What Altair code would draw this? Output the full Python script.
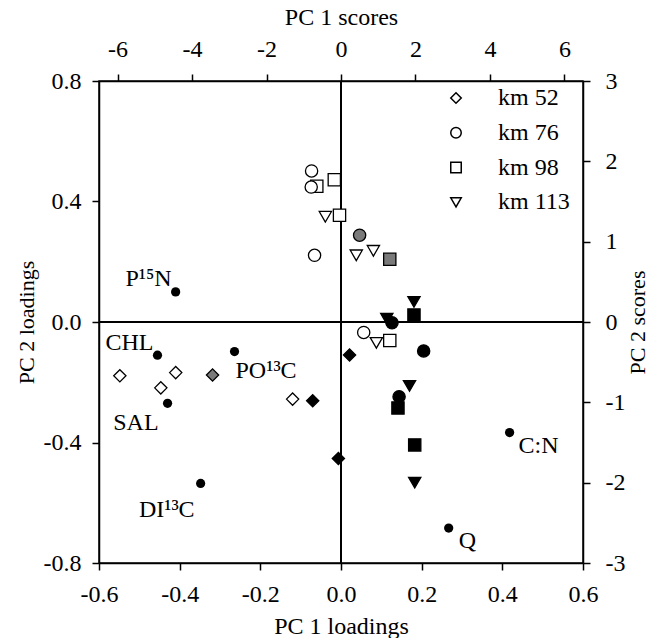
import altair as alt
import pandas as pd

# ---------------- data ----------------
load_names = ["P¹⁵N", "CHL", "SAL", "PO¹³C", "DI¹³C", "C:N", "Q"]
load_x = [-0.41, -0.455, -0.43, -0.264, -0.348, 0.418, 0.267]
load_y = [0.10, -0.11, -0.27, -0.098, -0.536, -0.367, -0.684]

score_site = (["km 113"] * 8 + ["km 98"] * 8 + ["km 76"] * 8 + ["km 52"] * 8)
score_group = (
    ["open", "open", "open", "open", "black", "black", "black", "black"]
    + ["open", "open", "open", "open", "grey", "black", "black", "black"]
    + ["open", "open", "open", "open", "grey", "black", "black", "black"]
    + ["open", "open", "open", "open", "grey", "black", "black", "black"]
)
score_x = (
    [-0.42, 0.41, 0.87, 0.95, 1.96, 1.23, 1.84, 1.98]
    + [-0.65, -0.18, -0.04, 1.31, 1.31, 1.96, 1.53, 1.98]
    + [-0.79, -0.80, -0.71, 0.61, 0.50, 1.37, 2.22, 1.56]
    + [-5.94, -4.84, -4.44, -1.30, -3.45, -0.76, 0.23, -0.07]
)
score_y = (
    [1.31, 0.83, 0.886, -0.26, 0.25, 0.04, -0.795, -2.0]
    + [1.69, 1.77, 1.33, -0.23, 0.78, 0.087, -1.07, -1.53]
    + [1.88, 1.68, 0.83, -0.13, 1.08, -0.01, -0.36, -0.93]
    + [-0.67, -0.82, -0.63, -0.96, -0.66, -0.98, -0.41, -1.70]
)

sites = ["km 52", "km 76", "km 98", "km 113"]
site_shapes = ["diamond", "circle", "square", "triangle-down"]

loadings = pd.DataFrame({"name": load_names, "lx": load_x, "ly": load_y})
scores = pd.DataFrame({"site": score_site, "grp": score_group, "sx": score_x, "sy": score_y})

FONT = "Liberation Serif"
FS = 24
FS_ROT = 22

# label placement (pixel offsets from the dot)
label_style = {
    "P¹⁵N": ("right", -4, -6),
    "CHL": ("right", -4, -5),
    "SAL": ("right", -9, 27),
    "PO¹³C": ("left", 1, 26),
    "DI¹³C": ("right", -6, 34),
    "C:N": ("left", 9, 20),
    "Q": ("left", 10, 20),
}

xl = alt.X("lx:Q", scale=alt.Scale(domain=[-0.6, 0.6], nice=False, zero=False),
           axis=alt.Axis(orient="bottom", values=[-0.6, -0.4, -0.2, 0.0, 0.2, 0.4, 0.6],
                         labelExpr="replace(format(datum.value, '.1f'), '\u2212', '-')",
                         title="PC 1 loadings", titleFontSize=FS, labelPadding=12, titlePadding=8))
yl = alt.Y("ly:Q", scale=alt.Scale(domain=[-0.8, 0.8], nice=False, zero=False),
           axis=alt.Axis(orient="left", values=[-0.8, -0.4, 0.0, 0.4, 0.8],
                         labelExpr="replace(format(datum.value, '.1f'), '\u2212', '-')",
                         title="PC 2 loadings", titleFontSize=FS_ROT, labelPadding=11, titlePadding=5))

base_l = alt.Chart(loadings)

vrule = base_l.mark_rule(color="black", strokeWidth=1.5).encode(x=alt.datum(0))
hrule = base_l.mark_rule(color="black", strokeWidth=1.5).encode(y=alt.datum(0))
dots = base_l.mark_circle(size=85, color="black", opacity=1).encode(x=xl, y=yl)

texts = []
for nm, (al, dx, dy) in label_style.items():
    texts.append(
        base_l.transform_filter(alt.datum.name == nm)
        .mark_text(font=FONT, fontSize=FS, align=al, baseline="alphabetic", dx=dx, dy=dy, color="black")
        .encode(x="lx:Q", y="ly:Q", text="name:N")
    )

load_layer = alt.layer(vrule, hrule, dots, *texts)

score_layer = alt.Chart(scores).mark_point(filled=True, stroke="black", strokeWidth=1.3, size=150, opacity=1).encode(
    x=alt.X("sx:Q", scale=alt.Scale(domain=[-6.5, 6.5], nice=False, zero=False),
            axis=alt.Axis(orient="top", values=[-6, -4, -2, 0, 2, 4, 6],
                          labelExpr="replace(format(datum.value, 'd'), '\u2212', '-')",
                          title="PC 1 scores", titleFontSize=FS, labelPadding=13, titlePadding=8)),
    y=alt.Y("sy:Q", scale=alt.Scale(domain=[-3, 3], nice=False, zero=False),
            axis=alt.Axis(orient="right", values=[-3, -2, -1, 0, 1, 2, 3],
                          labelExpr="replace(format(datum.value, 'd'), '\u2212', '-')",
                          title="PC 2 scores", titleFontSize=FS_ROT, titleAngle=270,
                          titleX=54, titleY=241, titleAlign="center", titleBaseline="middle",
                          labelPadding=15)),
    shape=alt.Shape("site:N", scale=alt.Scale(domain=sites, range=site_shapes),
                    legend=alt.Legend(title=None, orient="none", legendX=345, legendY=5,
                                      padding=0, labelFont=FONT, labelFontSize=FS,
                                      labelColor="black", symbolSize=110,
                                      symbolFillColor="white", symbolStrokeColor="black",
                                      symbolStrokeWidth=1.5, rowPadding=10.8,
                                      labelOffset=30)),
    fill=alt.Fill("grp:N", scale=alt.Scale(domain=["open", "grey", "black"],
                                           range=["white", "#7a7a7a", "black"]),
                  legend=None),
)

chart = (
    alt.layer(load_layer, score_layer)
    .resolve_scale(x="independent", y="independent", shape="independent", fill="independent")
    .properties(width=484, height=482,
                autosize=alt.AutoSizeParams(type="none"),
                padding={"left": 99, "top": 81, "right": 66, "bottom": 75},
                background="white")
    .configure_view(stroke="black", strokeWidth=1.5)
    .configure_axis(grid=False, domainColor="black", domainWidth=1.5, tickColor="black",
                    tickWidth=1.5, tickSize=7, labelColor="black", labelFont=FONT,
                    labelFontSize=FS, titleFont=FONT,
                    titleFontWeight="normal", titleColor="black", labelFlush=False,
                    labelOverlap=False)
)

chart.save("out.html", embed_options={"renderer": "svg", "actions": False})
